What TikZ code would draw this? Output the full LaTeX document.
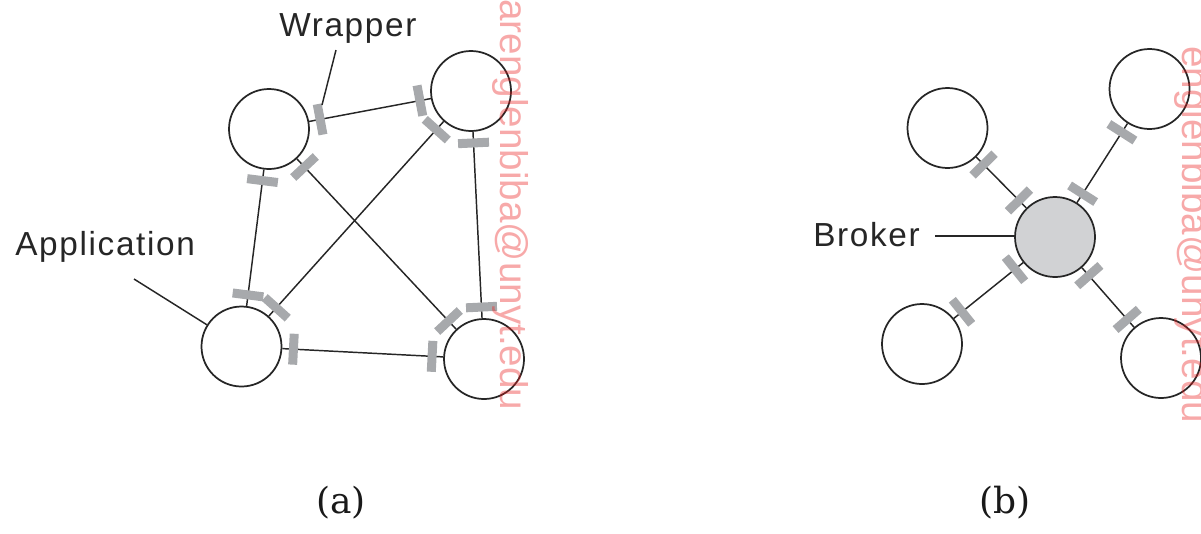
\documentclass[tikz,border=0pt]{standalone}
\usepackage{fontspec}
\newfontfamily\labelfont[LetterSpace=5]{Liberation Sans}
\newfontfamily\stampfont{Liberation Sans}
\newfontfamily\capfont{DejaVu Serif}
\usetikzlibrary{calc}

\definecolor{bargray}{RGB}{167,169,172}
\definecolor{brokergray}{RGB}{209,210,212}
\definecolor{stampred}{RGB}{235,30,30}

% a wrapper bar across the link #1--#2, at distance #3 from the centre of #1
\newcommand\wrapbar[3]{%
  \coordinate (wb) at ($(#1)!#3!(#2)$);
  \draw[wbar] ($(wb)!11.6pt!90:(#2)$) -- ($(wb)!11.6pt!-90:(#2)$);
}

\begin{document}
\begin{tikzpicture}[x=0.75pt,y=-0.75pt,
  app/.style={circle,draw=black!85,line width=1.3pt,minimum size=60pt,inner sep=0pt,fill=white},
  brokernode/.style={app,fill=brokergray},
  link/.style={draw=black!85,line width=1.1pt},
  wbar/.style={draw=bargray,line width=6.75pt},
  tag/.style={font=\labelfont\fontsize{25}{30}\selectfont,text=black!85,inner sep=0pt},
  caption/.style={font=\capfont\fontsize{27}{32}\selectfont,text=black!90,inner sep=0pt},
  stamp/.style={font=\stampfont\fontsize{29}{34}\selectfont,text=stampred,text opacity=0.38,inner sep=0pt,rotate=-90,anchor=base west}]
\useasboundingbox (0,0) rectangle (1201,533);

% ---------- (a) point-to-point ----------
\node[app] (a1) at (269,129) {};
\node[app] (a2) at (471,91) {};
\node[app] (a3) at (241.5,346.5) {};
\node[app] (a4) at (484,359) {};

\foreach \u/\v in {a1/a2,a1/a3,a1/a4,a2/a3,a2/a4,a3/a4}
  \draw[link] (\u) -- (\v);

\foreach \u/\v in {a1/a2,a1/a3,a1/a4,a2/a3,a2/a4,a3/a4}{
  \wrapbar{\u}{\v}{39pt}
  \wrapbar{\v}{\u}{39pt}
}

\node[tag,anchor=base west] (wrap) at (279,36) {Wrapper};
\coordinate (wrapfrom) at (336,50);
\coordinate (wrapto) at (322,105);
\draw[link] (wrapfrom) -- (wrapto);

\node[tag,anchor=base west] (appl) at (15,255) {Application};
\coordinate (applfrom) at (134,279);
\draw[link] (applfrom) -- (a3);

\node[caption,anchor=base] (capa) at (341,513) {(a)};

% ---------- (b) broker ----------
\node[brokernode] (br) at (1055,237) {};
\node[app] (b1) at (947.5,128) {};
\node[app] (b2) at (1149.5,89) {};
\node[app] (b3) at (922,344) {};
\node[app] (b4) at (1161,358) {};

\foreach \v in {b1,b2,b3,b4}{
  \draw[link] (br) -- (\v);
  \wrapbar{br}{\v}{38.5pt}
  \wrapbar{\v}{br}{38.5pt}
}

\node[tag,anchor=base west] (brk) at (813,246) {Broker};
\coordinate (brkfrom) at (935,236);
\draw[link] (brkfrom) -- (br.west |- brkfrom);

\node[caption,anchor=base] (capb) at (1005,513) {(b)};

% ---------- stamps ----------
\node[stamp] (st1) at (500,-1) {arenglenbiba@unyt.edu};
\node[stamp] (st2) at (1182,46) {englenbiba@unyt.edu};
\end{tikzpicture}
\end{document}
